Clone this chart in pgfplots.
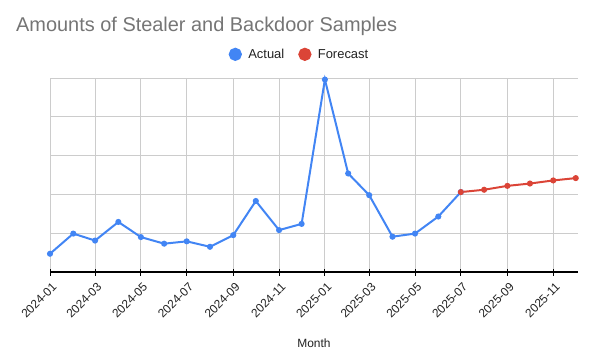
\documentclass[border=0pt]{standalone}
\usepackage{pgfplots}
\pgfplotsset{compat=1.18}
\usepackage{fontspec}
\setmainfont{Liberation Sans}
\definecolor{gblue}{HTML}{4285F4}
\definecolor{gred}{HTML}{DB4437}
\definecolor{ttl}{HTML}{757575}
\definecolor{gridc}{HTML}{CCCCCC}
\definecolor{lbl}{HTML}{222222}
\begin{document}
\begin{tikzpicture}[x=1bp,y=1bp]
\path[use as bounding box] (0,0) rectangle (590,362);
\node[anchor=base west, text=ttl, font=\fontsize{20}{24}\selectfont, inner sep=0pt] at (16,330.5) {Amounts of Stealer and Backdoor Samples};
\begin{axis}[
  at={(50bp,90bp)}, anchor=south west, scale only axis,
  width=528bp, height=194bp,
  xmin=0, xmax=703, ymin=0, ymax=5,
  clip=false,
  axis x line=bottom, axis y line=left,
  x axis line style={-, black, line width=1.2bp},
  y axis line style={draw=none},
  xtick={0,60,121,182,244,305,366,425,486,547,609,670},
  xticklabels={2024-01,2024-03,2024-05,2024-07,2024-09,2024-11,2025-01,2025-03,2025-05,2025-07,2025-09,2025-11},
  xticklabel style={rotate=45, anchor=north east, font=\fontsize{12}{14}\selectfont, text=lbl, yshift=-2bp},
  ytick={0,1,2,3,4,5}, yticklabels={},
  ytick style={draw=none},
  xtick style={black, line width=1bp},
  tick align=center, major tick length=7bp,
  grid=major, major grid style={gridc, line width=0.9bp},
  xlabel={Month},
  xlabel style={at={(axis description cs:0.5,0)}, anchor=center, yshift=-71bp, font=\fontsize{12}{14}\selectfont, text=lbl},
  legend columns=2,
  legend style={at={(axis description cs:0.4725,1.122)}, anchor=center, draw=none, fill=none,
    font=\fontsize{13}{15}\selectfont, text=lbl,
    /tikz/every even column/.append style={column sep=12bp}},
  legend image code/.code={\fill[#1] (0bp,0bp) circle (5.6bp); \path[draw=none,fill=none] (-5.6bp,0bp) rectangle (11bp,0.1bp);},
]
\addplot[gblue, line width=2bp, mark=*, mark size=2bp] coordinates {
(0,0.47)(31,0.99)(60,0.81)(91,1.29)(121,0.90)(152,0.73)(182,0.79)(213,0.65)(244,0.95)(274,1.83)(305,1.08)(335,1.24)(366,4.96)(397,2.54)(425,1.98)(456,0.91)(486,0.99)(517,1.43)(547,2.06)
};
\addlegendentry{Actual}
\addplot[gred, line width=2bp, mark=*, mark size=2bp] coordinates {
(547,2.06)(578,2.12)(609,2.22)(639,2.28)(670,2.36)(700,2.42)
};
\addlegendentry{Forecast}
\end{axis}
\end{tikzpicture}
\end{document}
